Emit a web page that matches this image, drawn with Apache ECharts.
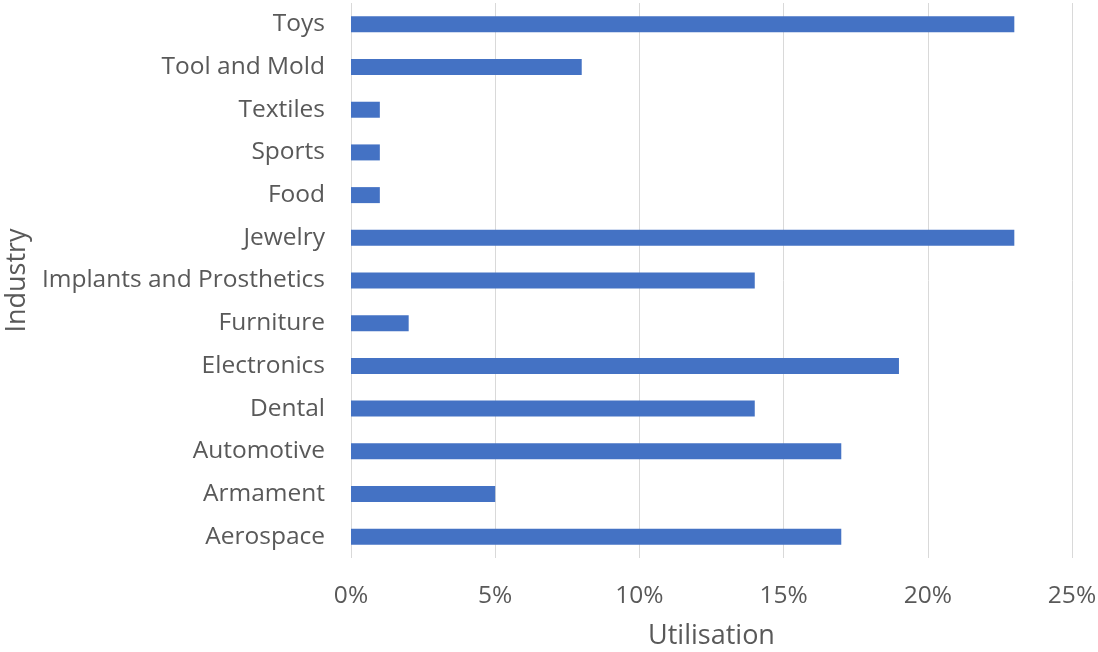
<!DOCTYPE html>
<html>
<head>
<meta charset="utf-8">
<script src="https://cdn.jsdelivr.net/npm/echarts@6/dist/echarts.min.js"></script>
<style>
html,body{margin:0;padding:0;background:#fff;}
#main{width:1098px;height:652px;}
</style>
</head>
<body>
<div id="main"></div>
<script>
const categories = ['Aerospace','Armament','Automotive','Dental','Electronics','Furniture','Implants and Prosthetics','Jewelry','Food','Sports','Textiles','Tool and Mold','Toys'];
const utilisation = [17,5,17,14,19,2,14,23,1,1,1,8,23];
const xTicks = [0,5,10,15,20,25];

const chart = echarts.init(document.getElementById('main'));
const font = "'Open Sans', 'Noto Sans', sans-serif";
chart.setOption({
  animation:false,
  grid:{left:351,right:26,top:3,bottom:94,containLabel:false,outerBoundsMode:'none'},
  xAxis:{
    type:'value',min:xTicks[0],max:xTicks[xTicks.length-1],interval:5,
    name:'Utilisation',nameLocation:'middle',nameGap:65,
    nameTextStyle:{fontSize:27,color:'#595959',fontFamily:font},
    axisLine:{show:false},axisTick:{show:false},
    axisLabel:{formatter:'{value}%',fontSize:24.5,color:'#595959',fontFamily:font,margin:26},
    splitLine:{lineStyle:{color:'#d9d9d9',width:1}}
  },
  yAxis:{
    type:'category',data:categories,
    name:'Industry',nameLocation:'middle',nameGap:319,nameRotate:90,
    nameTextStyle:{fontSize:27,color:'#595959',fontFamily:font},
    axisLine:{show:false},axisTick:{show:false},
    axisLabel:{fontSize:24.5,color:'#595959',fontFamily:font,margin:26}
  },
  series:[{type:'bar',data:utilisation,barWidth:16,itemStyle:{color:'#4472C4'}}]
});
</script>
</body>
</html>
